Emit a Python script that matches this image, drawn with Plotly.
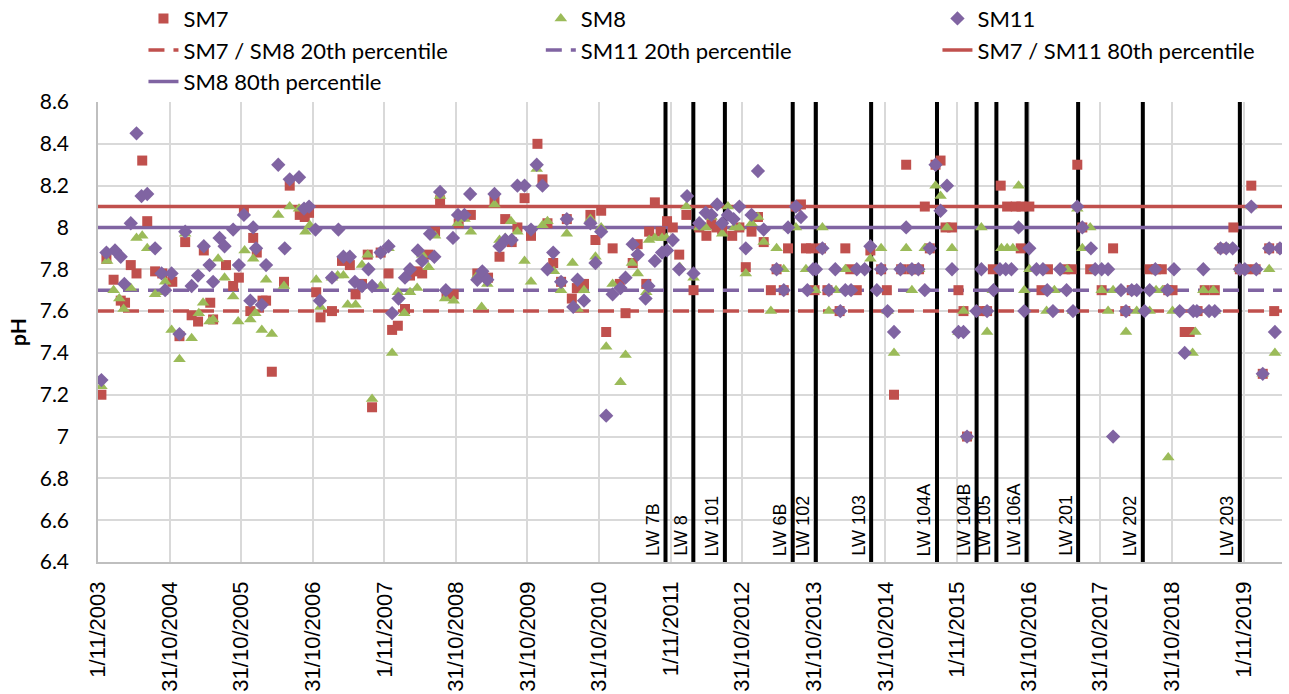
import plotly.graph_objects as go
import pandas as pd

# ---------------- data (decimal years, pH) ----------------
sm7_t = [2003.88, 2003.95, 2004.05, 2004.15, 2004.21, 2004.29, 2004.37, 2004.45, 2004.52, 2004.63,
         2004.73, 2004.87, 2004.97, 2005.05, 2005.14, 2005.23, 2005.31, 2005.40, 2005.44, 2005.62,
         2005.72, 2005.80, 2005.87, 2005.96, 2006.00, 2006.05, 2006.13, 2006.18, 2006.26, 2006.43,
         2006.51, 2006.65, 2006.72, 2006.78, 2006.88, 2006.94, 2007.10, 2007.24, 2007.35, 2007.43,
         2007.52, 2007.60, 2007.66, 2007.78, 2007.89, 2007.94, 2008.02, 2008.12, 2008.19, 2008.29,
         2008.36, 2008.45, 2008.54, 2008.61, 2008.70, 2008.80, 2008.87, 2009.04, 2009.13, 2009.28,
         2009.37, 2009.44, 2009.52, 2009.61, 2009.69, 2009.79, 2009.88, 2009.97, 2010.04, 2010.11,
         2010.19, 2010.30, 2010.38, 2010.45, 2010.52, 2010.62, 2010.71, 2010.78, 2010.86, 2010.93,
         2011.02, 2011.12, 2011.20, 2011.30, 2011.37, 2011.49, 2011.53, 2011.61, 2011.69, 2011.78,
         2011.86, 2011.95, 2012.05, 2012.15, 2012.23, 2012.33, 2012.40, 2012.47, 2012.55, 2012.69,
         2012.79, 2012.88, 2012.96, 2013.05, 2013.13, 2013.23, 2013.31, 2013.41, 2013.47, 2013.58,
         2013.65, 2013.72, 2013.79, 2013.84, 2013.93, 2014.02, 2014.19, 2014.27, 2014.34, 2014.43,
         2014.62, 2014.77, 2014.85, 2014.95, 2015.05, 2015.12, 2015.19, 2015.30, 2015.38, 2015.45,
         2015.53, 2015.60, 2015.67, 2015.76, 2015.85, 2015.92, 2015.97, 2016.17, 2016.25, 2016.33,
         2016.44, 2016.53, 2016.65, 2016.72, 2016.73, 2016.84, 2017.01, 2017.10, 2017.34, 2017.43,
         2017.51, 2017.58, 2017.69, 2017.85, 2018.01, 2018.18, 2018.27, 2018.52, 2018.61, 2018.69,
         2018.78, 2018.84, 2019.01, 2019.08, 2019.19, 2019.29, 2019.43, 2019.53, 2019.69, 2019.78,
         2019.87, 2019.94, 2020.00, 2020.10, 2020.19, 2020.26, 2020.36]
sm7_ph = [7.20, 7.85, 7.75, 7.65, 7.64, 7.82, 7.78, 8.32, 8.03, 7.79,
          7.78, 7.74, 7.48, 7.93, 7.58, 7.55, 7.89, 7.64, 7.56, 7.82,
          7.72, 7.76, 8.08, 7.60, 7.95, 7.88, 7.65, 7.65, 7.31, 7.74,
          8.20, 8.06, 8.05, 8.07, 7.69, 7.57, 7.60, 7.84, 7.82, 7.68,
          7.73, 7.87, 7.14, 7.88, 7.78, 7.51, 7.53, 7.61, 7.77, 7.79,
          7.78, 7.87, 7.98, 8.13, 7.68, 7.68, 8.02, 8.06, 7.78, 7.76,
          8.13, 7.86, 8.04, 7.93, 8.00, 8.14, 7.96, 8.40, 8.23, 8.02,
          7.83, 7.74, 8.04, 7.66, 7.71, 7.73, 8.06, 7.94, 8.08, 7.50,
          7.90, 7.73, 7.59, 7.83, 7.92, 7.73, 7.98, 8.12, 7.98, 8.03,
          8.00, 7.87, 8.06, 7.70, 8.00, 7.96, 8.02, 8.00, 7.99, 7.96,
          8.00, 7.81, 7.98, 8.05, 7.93, 7.70, 7.80, 7.70, 7.90, 8.10,
          8.11, 7.90, 7.90, 7.70, 7.90, 7.70, 7.60, 7.90, 7.80, 7.70,
          7.89, 7.80, 7.70, 7.20, 7.80, 8.30, 7.80, 7.80, 8.10, 7.90,
          8.30, 8.32, 8.00, 8.00, 7.70, 7.60, 7.00, 7.60, 7.60, 7.80,
          8.20, 8.10, 8.10, 7.90, 8.10, 8.10, 7.70, 7.80, 7.80, 7.80,
          8.30, 8.00, 7.80, 7.70, 7.90, 7.60, 7.70, 7.80, 7.80, 7.80,
          7.70, 7.70, 7.50, 7.50, 7.60, 7.70, 7.70, 7.90, 8.00, 7.80,
          7.80, 8.20, 7.80, 7.30, 7.90, 7.60, 7.90]

sm8_t = [2003.88, 2003.96, 2004.05, 2004.13, 2004.19, 2004.29, 2004.37, 2004.45, 2004.52, 2004.63,
         2004.73, 2004.77, 2004.86, 2004.97, 2005.05, 2005.14, 2005.24, 2005.30, 2005.39, 2005.44,
         2005.51, 2005.60, 2005.72, 2005.79, 2005.88, 2005.96, 2006.00, 2006.03, 2006.12, 2006.18,
         2006.26, 2006.35, 2006.43, 2006.51, 2006.64, 2006.73, 2006.79, 2006.88, 2006.94, 2007.10,
         2007.18, 2007.26, 2007.32, 2007.43, 2007.52, 2007.60, 2007.66, 2007.78, 2007.89, 2007.94,
         2008.02, 2008.11, 2008.19, 2008.29, 2008.36, 2008.45, 2008.54, 2008.61, 2008.68, 2008.80,
         2008.86, 2008.95, 2009.04, 2009.13, 2009.19, 2009.27, 2009.37, 2009.44, 2009.52, 2009.60,
         2009.69, 2009.79, 2009.88, 2009.96, 2010.04, 2010.11, 2010.20, 2010.30, 2010.38, 2010.46,
         2010.53, 2010.62, 2010.71, 2010.78, 2010.86, 2010.93, 2011.02, 2011.13, 2011.20, 2011.29,
         2011.37, 2011.49, 2011.53, 2011.61, 2011.71, 2011.77, 2011.96, 2012.05, 2012.15, 2012.23,
         2012.32, 2012.40, 2012.55, 2012.63, 2012.72, 2012.79, 2012.88, 2012.96, 2013.05, 2013.13,
         2013.23, 2013.31, 2013.41, 2013.48, 2013.58, 2013.72, 2013.85, 2013.95, 2014.04, 2014.14,
         2014.27, 2014.52, 2014.62, 2014.77, 2014.86, 2014.95, 2015.12, 2015.20, 2015.30, 2015.38,
         2015.53, 2015.60, 2015.69, 2015.76, 2015.85, 2015.92, 2015.97, 2016.17, 2016.25, 2016.33,
         2016.45, 2016.53, 2016.61, 2016.69, 2016.77, 2016.84, 2016.94, 2017.08, 2017.19, 2017.37,
         2017.45, 2017.51, 2017.58, 2017.69, 2017.76, 2017.85, 2017.94, 2018.01, 2018.19, 2018.34,
         2018.43, 2018.52, 2018.61, 2018.70, 2018.78, 2018.84, 2019.12, 2019.16, 2019.27, 2019.41,
         2019.43, 2019.53, 2019.62, 2019.78, 2019.94, 2020.10, 2020.19, 2020.27, 2020.36]
sm8_ph = [7.24, 7.84, 7.70, 7.66, 7.61, 7.71, 7.95, 7.96, 7.90, 7.68,
          7.69, 7.74, 7.51, 7.37, 7.97, 7.47, 7.59, 7.64, 7.55, 7.56,
          7.85, 7.76, 7.67, 7.55, 7.89, 7.56, 7.85, 7.59, 7.51, 7.75,
          7.49, 8.06, 7.72, 8.10, 8.09, 7.98, 8.01, 7.75, 7.62, 7.76,
          7.77, 7.77, 7.63, 7.63, 7.82, 7.87, 7.18, 7.72, 7.90, 7.40,
          7.69, 7.59, 7.69, 7.71, 7.87, 7.81, 7.96, 8.15, 7.66, 7.65,
          8.02, 8.04, 7.98, 7.77, 7.62, 7.73, 8.11, 7.94, 7.95, 8.03,
          7.98, 7.84, 7.74, 8.28, 8.01, 8.03, 7.79, 7.70, 7.97, 7.83,
          7.61, 7.70, 8.04, 7.86, 8.00, 7.43, 7.73, 7.26, 7.39, 7.83,
          7.78, 7.69, 7.94, 7.95, 7.95, 7.95, 7.81, 8.10, 7.76, 8.00,
          8.00, 8.05, 7.97, 8.10, 8.00, 8.00, 7.78, 8.02, 8.05, 7.93,
          7.60, 7.90, 7.80, 8.00, 8.00, 7.80, 7.70, 8.00, 7.60, 7.70,
          7.80, 7.80, 7.85, 7.90, 7.60, 7.40, 7.90, 7.70, 7.80, 7.90,
          8.20, 8.15, 8.00, 7.90, 7.50, 7.60, 7.00, 8.00, 7.50, 7.70,
          7.90, 7.90, 7.90, 8.20, 7.70, 7.80, 7.80, 7.60, 7.70, 7.80,
          7.60, 8.09, 7.90, 8.00, 7.80, 7.70, 7.60, 7.70, 7.50, 7.60,
          7.60, 7.60, 7.70, 7.70, 6.90, 7.60, 7.40, 7.50, 7.70, 7.70,
          7.60, 7.90, 7.90, 7.80, 8.10, 7.30, 7.80, 7.40, 7.90]

sm11_t = [2003.88, 2003.95, 2004.07, 2004.15, 2004.20, 2004.29, 2004.37, 2004.44, 2004.52, 2004.63,
          2004.72, 2004.77, 2004.86, 2004.97, 2005.05, 2005.14, 2005.23, 2005.31, 2005.39, 2005.44,
          2005.53, 2005.60, 2005.72, 2005.80, 2005.87, 2005.96, 2006.00, 2006.04, 2006.12, 2006.18,
          2006.35, 2006.44, 2006.51, 2006.64, 2006.71, 2006.78, 2006.87, 2006.93, 2007.10, 2007.19,
          2007.26, 2007.35, 2007.42, 2007.52, 2007.61, 2007.66, 2007.78, 2007.89, 2007.94, 2008.03,
          2008.12, 2008.19, 2008.30, 2008.36, 2008.47, 2008.53, 2008.61, 2008.69, 2008.79, 2008.86,
          2008.95, 2009.03, 2009.13, 2009.20, 2009.27, 2009.37, 2009.44, 2009.52, 2009.61, 2009.69,
          2009.79, 2009.88, 2009.96, 2010.04, 2010.11, 2010.19, 2010.30, 2010.38, 2010.47, 2010.53,
          2010.62, 2010.71, 2010.78, 2010.86, 2010.93, 2011.02, 2011.13, 2011.20, 2011.30, 2011.37,
          2011.48, 2011.52, 2011.61, 2011.71, 2011.78, 2011.86, 2011.95, 2012.06, 2012.15, 2012.23,
          2012.32, 2012.40, 2012.48, 2012.55, 2012.63, 2012.71, 2012.79, 2012.88, 2012.96, 2013.05,
          2013.13, 2013.31, 2013.41, 2013.47, 2013.58, 2013.65, 2013.74, 2013.82, 2013.86, 2013.95,
          2014.04, 2014.13, 2014.20, 2014.27, 2014.35, 2014.43, 2014.54, 2014.62, 2014.71, 2014.77,
          2014.86, 2014.95, 2015.04, 2015.12, 2015.20, 2015.29, 2015.38, 2015.45, 2015.53, 2015.60,
          2015.69, 2015.76, 2015.85, 2015.92, 2015.97, 2016.10, 2016.17, 2016.25, 2016.34, 2016.43,
          2016.51, 2016.59, 2016.69, 2016.77, 2016.84, 2016.94, 2017.03, 2017.09, 2017.17, 2017.27,
          2017.36, 2017.45, 2017.51, 2017.58, 2017.70, 2017.76, 2017.85, 2017.94, 2018.01, 2018.12,
          2018.19, 2018.27, 2018.34, 2018.45, 2018.52, 2018.60, 2018.77, 2018.86, 2018.94, 2019.01,
          2019.13, 2019.18, 2019.27, 2019.35, 2019.43, 2019.51, 2019.59, 2019.68, 2019.78, 2019.85,
          2019.94, 2020.01, 2020.10, 2020.19, 2020.27, 2020.34]
sm11_ph = [7.27, 7.88, 7.89, 7.86, 7.73, 8.02, 8.45, 8.15, 8.16, 7.90,
           7.78, 7.70, 7.78, 7.49, 7.98, 7.72, 7.77, 7.91, 7.82, 7.74,
           7.95, 7.91, 7.99, 7.82, 8.06, 7.65, 8.00, 7.90, 7.63, 7.82,
           8.30, 7.90, 8.23, 8.24, 8.09, 8.10, 7.99, 7.65, 7.76, 7.99,
           7.86, 7.86, 7.74, 7.72, 7.80, 7.72, 7.88, 7.91, 7.59, 7.66,
           7.76, 7.80, 7.89, 7.84, 7.97, 7.86, 8.17, 7.70, 7.95, 8.06,
           8.06, 8.16, 7.75, 7.79, 7.75, 8.16, 7.91, 7.94, 7.94, 8.20,
           8.20, 7.99, 8.30, 8.20, 7.80, 7.88, 7.74, 8.04, 7.62, 7.75,
           7.65, 8.02, 7.83, 7.98, 7.10, 7.68, 7.71, 7.76, 7.92, 7.87,
           7.66, 7.72, 7.84, 7.88, 7.89, 7.94, 7.80, 8.15, 7.78, 8.02,
           8.07, 8.06, 8.11, 8.02, 8.06, 8.04, 8.10, 7.90, 8.06, 8.27,
           7.99, 7.80, 7.70, 8.00, 8.10, 8.05, 7.70, 7.80, 7.80, 7.90,
           7.70, 7.80, 7.60, 7.70, 7.70, 7.80, 7.80, 7.91, 7.70, 7.80,
           7.60, 7.50, 7.80, 8.00, 7.80, 7.80, 7.70, 7.90, 8.30, 8.08,
           8.20, 7.80, 7.50, 7.50, 7.00, 7.60, 7.80, 7.60, 7.70, 7.80,
           7.80, 7.80, 8.00, 7.60, 7.90, 7.80, 7.80, 7.70, 7.60, 7.80,
           7.70, 7.60, 8.10, 8.00, 7.90, 7.80, 7.80, 7.80, 7.00, 7.70,
           7.60, 7.70, 7.70, 7.60, 7.70, 7.80, 7.70, 7.80, 7.60, 7.40,
           7.60, 7.60, 7.80, 7.60, 7.60, 7.90, 7.90, 7.90, 7.80, 7.80,
           8.10, 7.80, 7.30, 7.90, 7.50, 7.90]

# percentile reference values
p20_sm7_sm8 = 7.6
p20_sm11 = 7.7
p80_sm7_sm11 = 8.1
p80_sm8 = 8.0

# longwall start markers
lw_names = ["LW 7B", "LW 8", "LW 101", "LW 6B", "LW 102", "LW 103", "LW 104A",
            "LW 104B", "LW 105", "LW 106A", "LW 201", "LW 202", "LW 203"]
lw_dates = ["2011-10-05", "2012-02-24", "2012-08-03", "2013-07-15", "2013-11-10",
            "2014-08-19", "2015-07-21", "2016-02-08", "2016-05-19", "2016-10-20",
            "2017-07-10", "2018-06-05", "2019-10-13"]

tick_dates = ["2003-11-01", "2004-10-31", "2005-10-31", "2006-10-31", "2007-11-01",
              "2008-10-31", "2009-10-31", "2010-10-31", "2011-11-01", "2012-10-31",
              "2013-10-31", "2014-10-31", "2015-11-01", "2016-10-31", "2017-10-31",
              "2018-10-31", "2019-11-01"]
tick_text = ["1/11/2003", "31/10/2004", "31/10/2005", "31/10/2006", "1/11/2007",
             "31/10/2008", "31/10/2009", "31/10/2010", "1/11/2011", "31/10/2012",
             "31/10/2013", "31/10/2014", "1/11/2015", "31/10/2016", "31/10/2017",
             "31/10/2018", "1/11/2019"]
y_ticks = [6.4, 6.6, 6.8, 7.0, 7.2, 7.4, 7.6, 7.8, 8.0, 8.2, 8.4, 8.6]
y_tick_text = ["6.4", "6.6", "6.8", "7", "7.2", "7.4", "7.6", "7.8", "8", "8.2", "8.4", "8.6"]

x_start, x_end = "2003-11-01", "2020-05-15"
y_min, y_max = 6.4, 8.6

RED = "#C0504D"
GREEN = "#9BBB59"
PURPLE = "#8064A2"


def to_dates(years):
    base = pd.Timestamp("2003-01-01")
    return [base + pd.Timedelta(days=(y - 2003) * 365.25) for y in years]


fig = go.Figure()

# vertical longwall lines (drawn first, below markers)
vx, vy = [], []
for d in lw_dates:
    vx += [d, d, None]
    vy += [y_min, y_max, None]
fig.add_trace(go.Scatter(x=vx, y=vy, mode="lines", line=dict(color="black", width=4),
                         showlegend=False, hoverinfo="skip"))

# percentile lines: (name, value, colour, dash, legend, rank)
lines = [
    ("SM7 / SM8 20th percentile", p20_sm7_sm8, RED, "16px,9px", "legend", 2),
    ("SM11 20th percentile", p20_sm11, PURPLE, "16px,9px", "legend2", 2),
    ("SM7 / SM11 80th percentile", p80_sm7_sm11, RED, "solid", "legend3", 2),
    ("SM8 80th percentile", p80_sm8, PURPLE, "solid", "legend", 3),
]
for name, val, col, dash, leg, rank in lines:
    fig.add_trace(go.Scatter(x=[x_start, x_end], y=[val, val], mode="lines", name=name,
                             line=dict(color=col, width=3.5, dash=dash), legend=leg,
                             legendrank=rank, legendgroup=name, hoverinfo="skip"))

fig.add_trace(go.Scatter(x=to_dates(sm7_t), y=sm7_ph, mode="markers", name="SM7",
                         marker=dict(symbol="square", size=10, color=RED),
                         legend="legend", legendrank=1, legendgroup="SM7"))
fig.add_trace(go.Scatter(x=to_dates(sm8_t), y=sm8_ph, mode="markers", name="SM8",
                         marker=dict(symbol="triangle-up", size=11, color=GREEN),
                         legend="legend2", legendrank=1, legendgroup="SM8"))
fig.add_trace(go.Scatter(x=to_dates(sm11_t), y=sm11_ph, mode="markers", name="SM11",
                         marker=dict(symbol="diamond", size=11, color=PURPLE),
                         legend="legend3", legendrank=1, legendgroup="SM11"))

annotations = []
for name, d in zip(lw_names, lw_dates):
    annotations.append(dict(x=d, y=y_min, xref="x", yref="y", text=name, showarrow=False,
                            textangle=-90, xanchor="right", yanchor="bottom", xshift=-1, yshift=4,
                            font=dict(family="Liberation Sans", size=18, color="black")))

leg_common = dict(orientation="v", yanchor="top", xanchor="left", y=1.227,
                  font=dict(family="Lato", size=22, color="#000000"),
                  bgcolor="rgba(0,0,0,0)", traceorder="grouped", tracegroupgap=0,
                  itemwidth=30)

fig.update_layout(
    width=1289, height=694,
    margin=dict(l=98, r=7, t=102, b=132, autoexpand=False),
    paper_bgcolor="white", plot_bgcolor="white",
    font=dict(family="Lato", color="#000000"),
    showlegend=True,
    legend=dict(x=0.0384, **leg_common),
    legend2=dict(x=0.374, **leg_common),
    legend3=dict(x=0.709, **leg_common),
    xaxis=dict(type="date", range=[x_start, x_end], tickmode="array", tickvals=tick_dates,
               ticktext=tick_text, tickangle=-90, showgrid=True, gridcolor="#D9D9D9",
               gridwidth=1.5, showline=True, linecolor="#BFBFBF", linewidth=1.5,
               ticks="", zeroline=False, ticklabelstandoff=9,
               tickfont=dict(family="Liberation Sans", size=22, color="#000000")),
    yaxis=dict(range=[y_min, y_max], tickmode="array", tickvals=y_ticks, ticktext=y_tick_text,
               showgrid=True, gridcolor="#D9D9D9", gridwidth=1.5, showline=True,
               linecolor="#BFBFBF", linewidth=1.5, ticks="", zeroline=False,
               ticklabelstandoff=23,
               tickfont=dict(family="Lato", size=21, color="#000000"),
               title=dict(text="<b>pH</b>", font=dict(family="Lato", size=21, color="#000000"),
                          standoff=7)),
    annotations=annotations,
)

fig.write_html("out.html")
